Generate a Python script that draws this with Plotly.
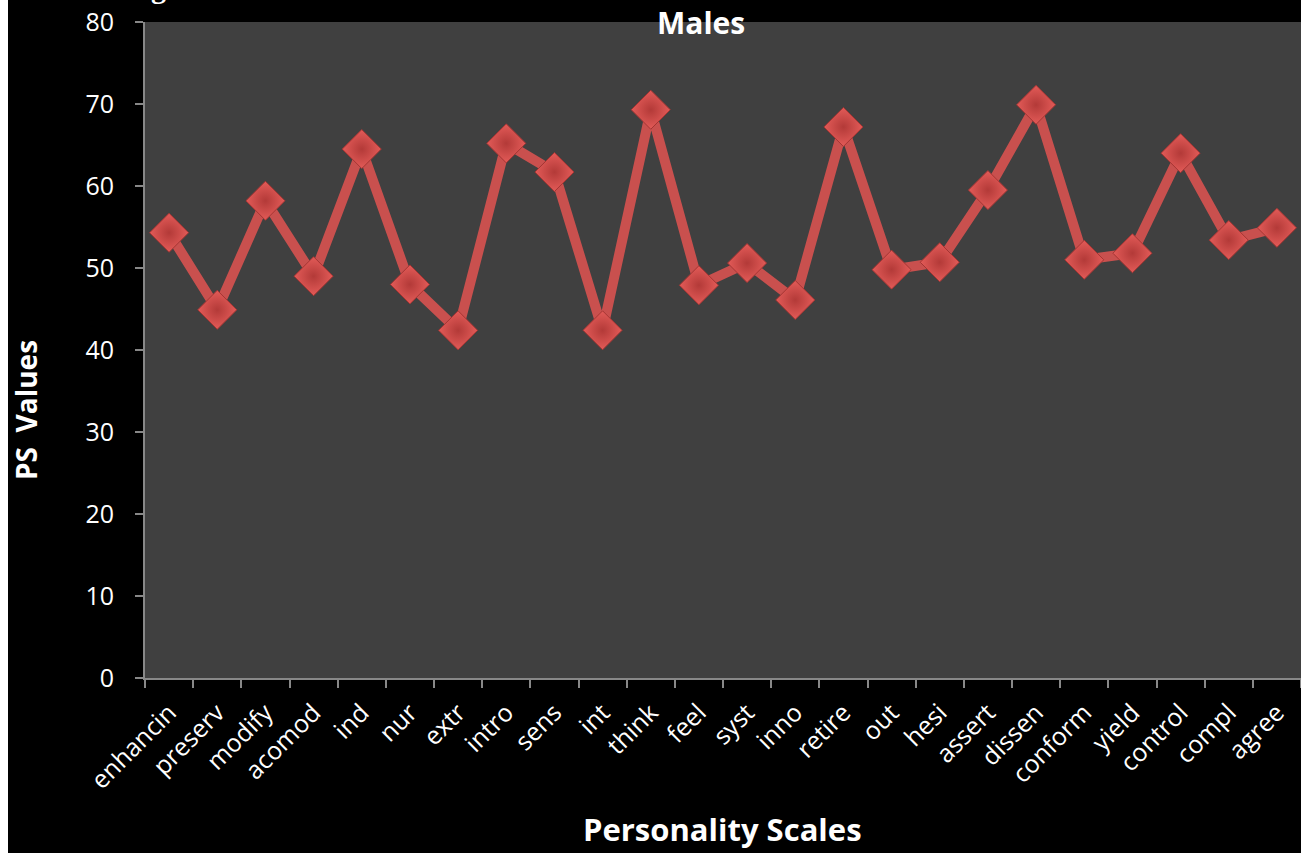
import plotly.graph_objects as go

scales = ["enhancin", "preserv", "modify", "acomod", "ind", "nur", "extr", "intro",
          "sens", "int", "think", "feel", "syst", "inno", "retire", "out", "hesi",
          "assert", "dissen", "conform", "yield", "control", "compl", "agree"]
ps_values = [54.3, 44.9, 58.2, 49.0, 64.5, 48.0, 42.4, 65.2, 61.7, 42.4, 69.3, 47.9,
             50.6, 46.1, 67.2, 49.8, 50.7, 59.5, 69.9, 51.0, 51.8, 64.0, 53.4, 54.9]
y_ticks = [0, 10, 20, 30, 40, 50, 60, 70, 80]

font_family = "Open Sans, DejaVu Sans, sans-serif"

W, H = 1301, 853
ML, MR, MT, MB = 145, 0, 22, 175
PW, PH = W - ML - MR, H - MT - MB


def px_x(px):
    return (px - ML) / PW


def px_y(py):
    return (H - MB - py) / PH


fig = go.Figure()
fig.add_trace(go.Scatter(
    x=scales, y=ps_values, mode="lines+markers",
    line=dict(color="#c9504e", width=10),
    marker=dict(symbol="diamond", size=30, color="#e35b58",
                gradient=dict(type="radial", color="#b33a38"),
                line=dict(color="#a53533", width=1)),
    showlegend=False,
))

annotations = [
    dict(text="<b>Males</b>", x=px_x(701), y=px_y(22), xref="paper", yref="paper",
         xanchor="center", yanchor="middle", showarrow=False,
         font=dict(size=30, color="white", family=font_family)),
    dict(text="<b>PS  Values</b>", x=px_x(26), y=px_y(410), xref="paper", yref="paper",
         xanchor="center", yanchor="middle", textangle=-90, showarrow=False,
         font=dict(size=28, color="white", family=font_family)),
    dict(text="<b>Personality Scales</b>", x=px_x(722), y=px_y(829), xref="paper", yref="paper",
         xanchor="center", yanchor="middle", showarrow=False,
         font=dict(size=31, color="white", family=font_family)),
    # caption text running off the top edge
    dict(text="<b>g</b>", x=px_x(158), y=px_y(6), xref="paper", yref="paper",
         xanchor="center", yanchor="bottom", showarrow=False,
         font=dict(size=30, color="white", family="Liberation Serif, DejaVu Serif, serif")),
]

shapes = [
    # white strip along the left edge
    dict(type="rect", xref="paper", yref="paper", x0=px_x(0), x1=px_x(8),
         y0=px_y(H), y1=px_y(0), fillcolor="white", line=dict(width=0), layer="above"),
]

fig.update_layout(
    width=W, height=H,
    margin=dict(l=ML, r=MR, t=MT, b=MB),
    paper_bgcolor="#000000", plot_bgcolor="#404040",
    font=dict(family=font_family, color="white"),
    annotations=annotations, shapes=shapes,
    xaxis=dict(
        type="category", tickson="boundaries", ticks="outside", ticklen=8,
        tickcolor="#888888", tickwidth=2, showline=True, linecolor="#888888", linewidth=2,
        showgrid=False, tickangle=-45, tickfont=dict(size=25, color="white"),
        ticklabelstandoff=8, range=[-0.5, 23.5],
    ),
    yaxis=dict(
        range=[0, 80], tickvals=y_ticks, ticks="outside", ticklen=8, tickcolor="#888888",
        tickwidth=2, showline=True, linecolor="#888888", linewidth=2, showgrid=False,
        zeroline=False, tickfont=dict(size=25, color="white"), ticklabelstandoff=16,
    ),
)

fig.write_html("out.html")
